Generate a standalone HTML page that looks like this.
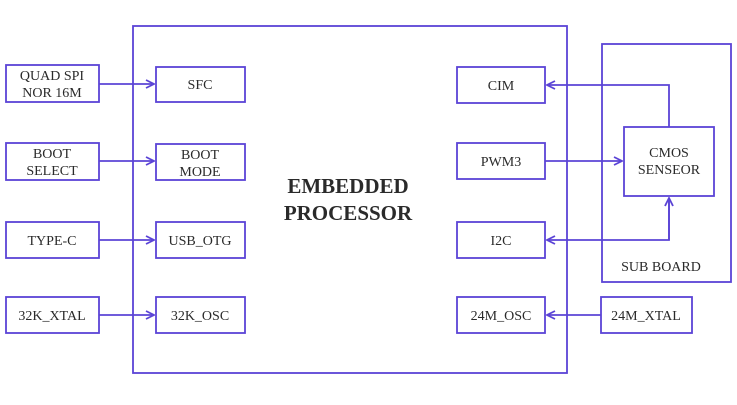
<!DOCTYPE html>
<html><head><style>
body{margin:0;background:#fff}
svg text{font-family:"Liberation Serif",serif;fill:#2a2a2a;font-size:14px;text-anchor:middle}
</style></head><body>
<svg width="737" height="400" viewBox="0 0 737 400" xmlns="http://www.w3.org/2000/svg">
<defs><marker id="a" markerWidth="10" markerHeight="10" refX="9" refY="5" orient="auto" markerUnits="userSpaceOnUse"><path d="M1,1 L9,5 L1,9" fill="none" stroke="#5b44d6" stroke-width="1.8"/></marker></defs>
<g fill="none" stroke="#5b44d6" stroke-width="1.8">
<rect x="133" y="26" width="434" height="347"/>
<rect x="602" y="44" width="129" height="238"/>
<rect x="6" y="65" width="93" height="37"/>
<rect x="6" y="143" width="93" height="37"/>
<rect x="6" y="222" width="93" height="36"/>
<rect x="6" y="297" width="93" height="36"/>
<rect x="156" y="67" width="89" height="35"/>
<rect x="156" y="144" width="89" height="36"/>
<rect x="156" y="222" width="89" height="36"/>
<rect x="156" y="297" width="89" height="36"/>
<rect x="457" y="67" width="88" height="36"/>
<rect x="457" y="143" width="88" height="36"/>
<rect x="457" y="222" width="88" height="36"/>
<rect x="457" y="297" width="88" height="36"/>
<rect x="601" y="297" width="91" height="36"/>
<rect x="624" y="127" width="90" height="69"/>
<path d="M99 84H154" marker-end="url(#a)"/>
<path d="M99 161H154" marker-end="url(#a)"/>
<path d="M99 240H154" marker-end="url(#a)"/>
<path d="M99 315H154" marker-end="url(#a)"/>
<path d="M669 127V85H547" marker-end="url(#a)"/>
<path d="M545 161H622" marker-end="url(#a)"/>
<path d="M669 198V240H547" marker-end="url(#a)"/>
<path d="M669 240V198" marker-end="url(#a)"/>
<path d="M601 315H547" marker-end="url(#a)"/>
</g>
<text x="52" y="80">QUAD SPI</text><text x="52" y="97">NOR 16M</text>
<text x="52" y="158">BOOT</text><text x="52" y="175">SELECT</text>
<text x="52" y="245">TYPE-C</text>
<text x="52" y="320">32K_XTAL</text>
<text x="200" y="89">SFC</text>
<text x="200" y="159">BOOT</text><text x="200" y="176">MODE</text>
<text x="200" y="245">USB_OTG</text>
<text x="200" y="320">32K_OSC</text>
<text x="501" y="90">CIM</text>
<text x="501" y="166">PWM3</text>
<text x="501" y="245">I2C</text>
<text x="501" y="320">24M_OSC</text>
<text x="646" y="320">24M_XTAL</text>
<text x="669" y="157">CMOS</text><text x="669" y="174">SENSEOR</text>
<text x="661" y="271">SUB BOARD</text>
<text x="348" y="193" style="font-size:21px;font-weight:bold">EMBEDDED</text>
<text x="348" y="220" style="font-size:21px;font-weight:bold">PROCESSOR</text>
</svg>
</body></html>
